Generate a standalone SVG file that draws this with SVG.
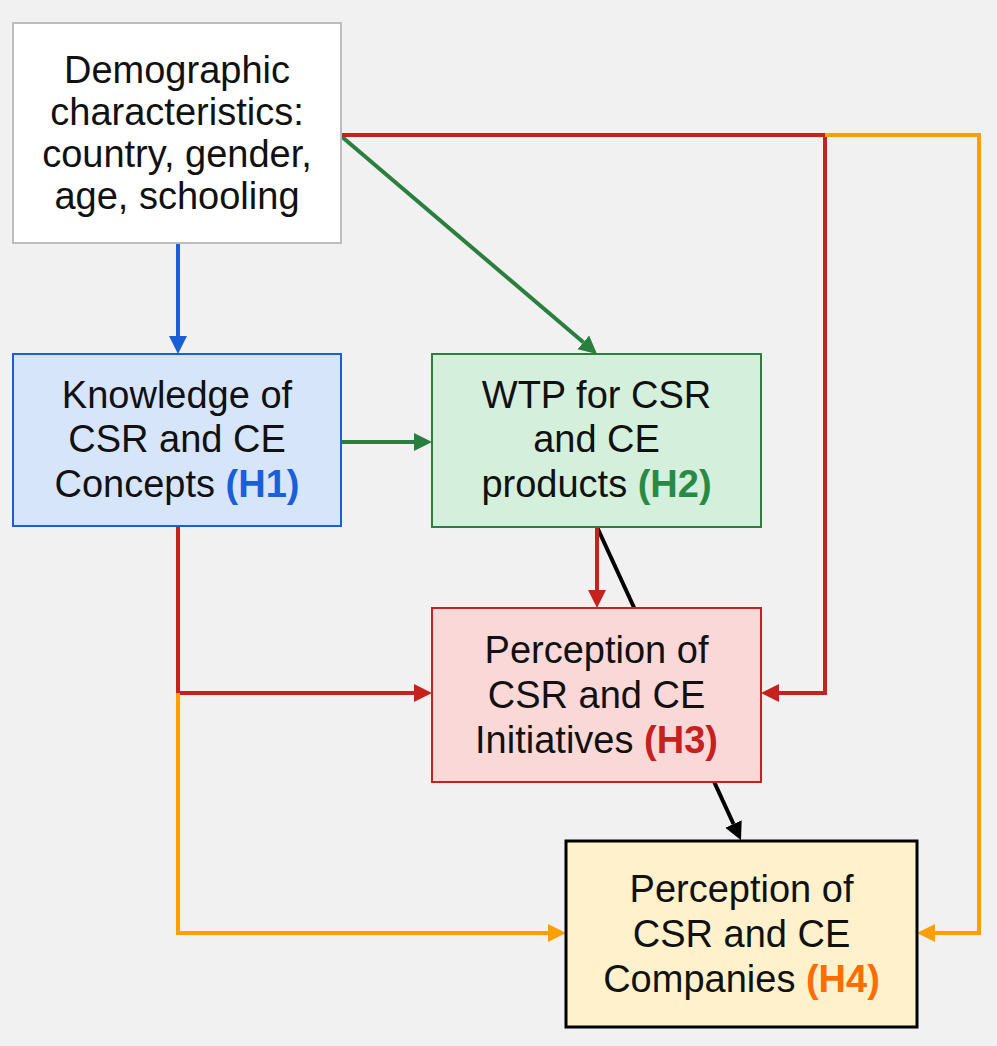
<svg xmlns="http://www.w3.org/2000/svg" width="997" height="1046" viewBox="0 0 997 1046">
<style>
.t{font-family:"Liberation Sans",Arial,sans-serif;font-size:38px;fill:#111;text-anchor:middle}
.b{font-weight:bold}
.ln{fill:none;stroke-width:4}
</style>
<defs>
<marker id="aBlue" markerUnits="userSpaceOnUse" markerWidth="20" markerHeight="20" refX="0" refY="9" orient="auto"><path d="M0,0 L18,9 L0,18 z" fill="#1a5fd8"/></marker>
<marker id="aGreen" markerUnits="userSpaceOnUse" markerWidth="20" markerHeight="20" refX="0" refY="9" orient="auto"><path d="M0,0 L18,9 L0,18 z" fill="#2a7f3e"/></marker>
<marker id="aRed" markerUnits="userSpaceOnUse" markerWidth="20" markerHeight="20" refX="0" refY="9" orient="auto"><path d="M0,0 L18,9 L0,18 z" fill="#c5221f"/></marker>
<marker id="aOrange" markerUnits="userSpaceOnUse" markerWidth="20" markerHeight="20" refX="0" refY="9" orient="auto"><path d="M0,0 L18,9 L0,18 z" fill="#ff9e00"/></marker>
<marker id="aBlack" markerUnits="userSpaceOnUse" markerWidth="20" markerHeight="20" refX="0" refY="9" orient="auto"><path d="M0,0 L18,9 L0,18 z" fill="#000"/></marker>
</defs>
<rect width="997" height="1046" fill="#f1f1f1"/>
<g id="connectors">
<path class="ln" stroke="#000" d="M597,527 L733.5,824" marker-end="url(#aBlack)"/>
<path class="ln" stroke="#1a5fd8" d="M178,243 L178,336" marker-end="url(#aBlue)"/>
<path class="ln" stroke="#2a7f3e" d="M341,136 L583.3,342.3" marker-end="url(#aGreen)"/>
<path class="ln" stroke="#2a7f3e" d="M341,442 L414,442" marker-end="url(#aGreen)"/>
<path class="ln" stroke="#c5221f" d="M341,135 L825,135 L825,693 L779,693" marker-end="url(#aRed)"/>
<path class="ln" stroke="#ff9e00" d="M825,135 L979,135 L979,933 L935,933" marker-end="url(#aOrange)"/>
<path class="ln" stroke="#c5221f" d="M178,526 L178,693 L414,693" marker-end="url(#aRed)"/>
<path class="ln" stroke="#ff9e00" d="M178,693 L178,933 L548,933" marker-end="url(#aOrange)"/>
<path class="ln" stroke="#c5221f" d="M597,527 L597,590" marker-end="url(#aRed)"/>
</g>
<g id="demographic">
<rect x="13" y="23" width="328" height="220" fill="#fff" stroke="#bdbdbd" stroke-width="2"/>
<text class="t" x="177" y="83">Demographic</text>
<text class="t" x="177" y="125">characteristics:</text>
<text class="t" x="177" y="167">country, gender,</text>
<text class="t" x="177" y="209">age, schooling</text>
</g>
<g id="knowledge">
<rect x="13" y="354" width="328" height="172" fill="#d7e5fa" stroke="#1a5fd8" stroke-width="2"/>
<text class="t" x="177" y="408">Knowledge of</text>
<text class="t" x="177" y="452">CSR and CE</text>
<text class="t" x="177" y="497">Concepts <tspan class="b" fill="#1a5fd8">(H1)</tspan></text>
</g>
<g id="wtp">
<rect x="432" y="354" width="329" height="173" fill="#d4efdb" stroke="#2a7f3e" stroke-width="2"/>
<text class="t" x="596.5" y="408">WTP for CSR</text>
<text class="t" x="596.5" y="452">and CE</text>
<text class="t" x="596.5" y="497">products <tspan class="b" fill="#2a8a45">(H2)</tspan></text>
</g>
<g id="initiatives">
<rect x="432" y="608" width="329" height="174" fill="#fad8d7" stroke="#c5221f" stroke-width="2"/>
<text class="t" x="596.5" y="663">Perception of</text>
<text class="t" x="596.5" y="708">CSR and CE</text>
<text class="t" x="596.5" y="753">Initiatives <tspan class="b" fill="#c5221f">(H3)</tspan></text>
</g>
<g id="companies">
<rect x="566" y="841" width="351" height="186" fill="#fef1cc" stroke="#000" stroke-width="3"/>
<text class="t" x="741.5" y="902">Perception of</text>
<text class="t" x="741.5" y="947">CSR and CE</text>
<text class="t" x="741.5" y="992">Companies <tspan class="b" fill="#ff6d01">(H4)</tspan></text>
</g>
</svg>
